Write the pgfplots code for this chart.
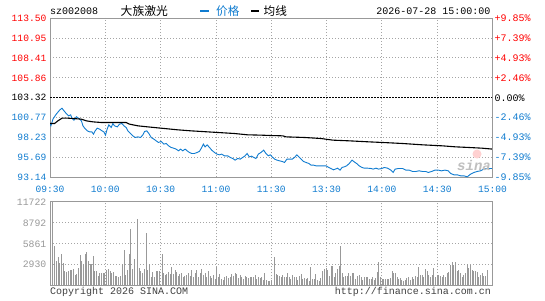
\documentclass[border=0pt]{standalone}
\usepackage{pgfplots}
\pgfplotsset{compat=1.18}
\usepackage{fontspec}
\setmainfont{Liberation Mono}
\newfontfamily\cjk{Noto Sans CJK SC}
\definecolor{pblue}{RGB}{16,124,208}
\definecolor{fgray}{RGB}{153,153,153}
\definecolor{ggray}{RGB}{165,165,165}
\definecolor{pred}{RGB}{255,0,0}
\newcommand{\tl}[2]{\textcolor{#1}{\mbox{#2}}}
\begin{document}
\begin{tikzpicture}
\useasboundingbox (0,0) rectangle (545pt,300pt);
\fill[white] (0,0) rectangle (545pt,300pt);
% ---------------- main price axis
\begin{axis}[
  at={(50pt,123pt)}, anchor=south west, scale only axis,
  width=442.5pt, height=159pt,
  xmin=0, xmax=240, ymin=93.14, ymax=113.50,
  axis line style={draw=fgray, line width=0.9pt},
  xtick={0,30,...,240},
  xticklabels={09:30,10:00,10:30,11:00,11:30,13:30,14:00,14:30,15:00},
  ytick={93.14,95.69,98.23,100.77,103.32,105.86,108.41,110.95,113.50},
  yticklabels={\tl{pblue}{93.14},\tl{pblue}{95.69},\tl{pblue}{98.23},\tl{pblue}{100.77},\tl{black}{103.32},\tl{pred}{105.86},\tl{pred}{108.41},\tl{pred}{110.95},\tl{pred}{113.50}},
  major tick length=0pt,
  xmajorgrids, ymajorgrids,
  grid style={draw=ggray, line width=0.8pt, dash pattern=on 1pt off 2pt},
  tick label style={font=\fontsize{9.6}{10}\selectfont},
  xticklabel style={anchor=center, inner sep=0pt, yshift=-11.5pt, text height=7pt, text depth=0pt, text=pblue},
  yticklabel style={anchor=east, inner sep=0pt, xshift=-3.5pt, text height=7pt, text depth=0pt},
  scaled ticks=false,
]
\draw[black, line width=0.8pt, dash pattern=on 2pt off 1pt] (axis cs:0,103.32) -- (axis cs:240,103.32);
\addplot[pblue, line width=0.9pt, no marks] coordinates {
(0,99.95) (0.5,99.70) (1.6,100.55) (3.4,101.19) (5.2,101.70) (6.5,101.95) (7.6,101.61) (8.8,101.27)
(10.1,100.97) (11.2,101.10) (11.9,100.67) (13.0,100.42) (14.3,100.85) (15.5,100.67) (17.0,100.33)
(17.9,99.69) (18.8,99.39) (20.2,99.05) (21.5,98.92) (22.7,98.92) (23.6,98.63) (24.5,99.05) (25.6,99.39)
(26.9,99.27) (28.2,99.05) (29.2,98.92) (30.1,98.50) (31.0,99.27) (31.9,99.82) (33.2,99.48) (34.1,99.99)
(35.0,99.69) (36.5,99.56) (37.7,99.91) (39.0,99.99) (40.1,99.69) (41.3,99.48) (42.2,99.05) (43.7,98.71)
(44.9,98.41) (46.2,98.20) (47.7,98.28) (49.1,98.20) (50.4,98.54) (51.3,98.97) (52.5,99.05) (53.6,98.71)
(54.9,98.20) (56.3,97.99) (57.6,97.77) (58.8,97.56) (60.3,97.69) (61.7,97.35) (63.0,97.43) (64.3,97.13)
(65.7,96.92) (67.1,96.83) (68.4,96.71) (69.7,96.49) (70.8,96.71) (72.0,96.49) (73.3,96.71) (74.4,96.49)
(75.6,96.28) (76.9,96.15) (78.3,96.15) (79.8,96.28) (81.0,96.41) (82.3,96.92) (83.2,97.35) (84.1,97.00)
(85.2,97.26) (86.5,96.92) (87.7,96.58) (89.2,96.28) (90.6,96.07) (91.9,95.98) (93.1,96.07) (94.6,95.85)
(96.4,95.85) (97.8,95.64) (99.1,95.51) (100.4,95.30) (101.8,95.51) (103.2,95.43) (104.5,95.64) (105.8,95.85)
(106.9,96.15) (108.1,95.72) (109.4,95.81) (110.5,95.64) (111.7,95.51) (113.0,96.07) (114.4,96.28) (115.9,96.58)
(117.1,96.15) (118.4,95.85) (119.5,95.98) (120.5,95.72) (121.8,95.43) (123.1,95.30) (124.5,95.21) (125.9,95.13)
(127.2,95.00) (128.5,95.43) (129.9,95.43) (131.4,95.43) (132.6,95.64) (133.9,95.98) (135.0,95.72) (136.2,95.43)
(137.5,95.13) (138.9,95.00) (140.4,94.87) (141.6,94.66) (142.9,94.66) (144.3,94.57) (146.1,94.57) (147.9,94.57)
(149.7,94.57) (151.2,94.36) (152.4,94.23) (153.7,94.06) (154.8,94.15) (156.0,94.27) (157.3,94.02) (158.4,94.36)
(159.6,94.44) (160.9,94.57) (162.3,94.87) (163.8,95.30) (165.0,95.08) (166.3,94.87) (167.7,94.57) (169.2,94.36)
(170.5,94.27) (172.3,94.27) (174.1,94.23) (175.3,94.15) (176.8,94.27) (178.2,94.15) (180.0,94.23) (181.3,94.36)
(183.1,94.27) (184.9,94.02) (186.1,93.72) (187.2,94.15) (189.0,94.23) (191.2,94.23) (193.0,94.02) (194.8,94.02)
(196.6,93.85) (198.4,93.85) (200.2,93.93) (202.0,93.85) (203.8,93.85) (205.2,93.72) (207.0,93.85) (208.8,94.02)
(210.6,94.02) (212.4,93.93) (214.2,94.02) (216.0,93.93) (217.3,93.59) (219.1,93.42) (220.9,93.42) (222.7,93.29)
(224.5,93.29) (226.3,93.16) (228.1,93.51) (229.9,93.72) (231.7,93.85) (233.5,93.93) (235.3,94.15) (237.1,94.23)
(239.5,94.23) (240,94.23)
};
\addplot[black, line width=1.1pt, no marks] coordinates {
(0,99.99) (2.5,99.99) (4.3,100.33) (6.5,100.67) (10,100.67) (17,100.55) (19.7,100.33) (23.3,100.20)
(27.8,100.12) (41.3,100.12) (43.1,99.91) (47.7,99.69) (53,99.56) (60.3,99.39) (69.3,99.18) (76.5,99.05)
(82,98.97) (91,98.84) (100,98.71) (107.2,98.54) (114.4,98.50) (120,98.45) (126.3,98.41) (128,98.28)
(138,98.20) (147,98.07) (153.3,97.86) (162.3,97.77) (173,97.64) (180.4,97.56) (191.2,97.43) (202,97.26)
(212.8,97.13) (220,97.00) (227.2,96.92) (234.4,96.83) (240,96.71)
};
\end{axis}
% ---------------- right percent axis
\begin{axis}[
  at={(50pt,123pt)}, anchor=south west, scale only axis,
  width=442.5pt, height=159pt,
  xmin=0, xmax=240, ymin=-9.85, ymax=9.85,
  axis x line=none, axis y line*=right,
  axis line style={draw=fgray, line width=0.9pt},
  ytick={-9.85,-7.39,-4.93,-2.46,0,2.46,4.93,7.39,9.85},
  yticklabels={\tl{pblue}{-9.85\%},\tl{pblue}{-7.39\%},\tl{pblue}{-4.93\%},\tl{pblue}{-2.46\%},\tl{black}{0.00\%},\tl{pred}{+2.46\%},\tl{pred}{+4.93\%},\tl{pred}{+7.39\%},\tl{pred}{+9.85\%}},
  major tick length=0pt,
  tick label style={font=\fontsize{10}{10}\selectfont},
  yticklabel style={anchor=west, inner sep=0pt, xshift=1.8pt, text height=7pt, text depth=0pt},
  scaled ticks=false,
]
\end{axis}
% ---------------- volume axis
\begin{axis}[
  at={(50pt,14.7pt)}, anchor=south west, scale only axis,
  width=442.5pt, height=83.6pt,
  xmin=0, xmax=240, ymin=0, ymax=11722,
  axis line style={draw=fgray, line width=0.9pt},
  xtick={30,60,...,210}, xticklabels={},
  ytick={2930,5861,8792,11722},
  yticklabels={\tl{fgray}{2930},\tl{fgray}{5861},\tl{fgray}{8792},\tl{fgray}{11722}},
  major tick length=0pt,
  xmajorgrids, ymajorgrids,
  grid style={draw=ggray, line width=0.8pt, dash pattern=on 1pt off 2pt},
  tick label style={font=\fontsize{9.8}{10}\selectfont},
  yticklabel style={anchor=east, inner sep=0pt, xshift=-3.5pt, text height=7pt, text depth=0pt},
  scaled ticks=false,
]
\addplot[ycomb, no marks, draw=fgray, line width=1pt] coordinates {
(0,2850) (1.3,11722) (2.4,5510) (3.3,3409) (4.5,4016) (5.4,3176) (6.2,4390) (7.1,3082) (8.1,2008) (9.0,1915)
(10.0,2008) (10.9,2148) (11.8,2148) (12.7,2288) (13.6,1448) (14.5,1588) (15.4,2475) (16.3,4250) (17.2,3409)
(18.1,2989) (19.0,4390) (19.9,4670) (20.8,3409) (21.7,2989) (22.6,2989) (23.5,4110) (24.4,2008) (25.3,2008)
(26.2,1308) (27.1,1775) (28.0,1775) (28.9,1775) (29.8,1681) (30.7,2148) (31.7,2242) (32.6,2055) (33.5,1775)
(34.4,1915) (35.3,1308) (36.2,1308) (37.1,1121) (38.0,1308) (39.4,2989) (40.3,4950) (41.2,1448) (42.1,2148)
(43.0,4390) (43.9,7846) (44.9,2335) (45.9,3643) (47.4,9247) (48.3,2382) (49.2,2008) (50.3,1681) (51.2,2242)
(52.1,7379) (53.0,2148) (53.9,2989) (54.8,1121) (55.7,1915) (56.6,1121) (57.5,2008) (58.4,2008) (59.3,2055)
(60.8,4390) (61.5,1775) (62.4,1448) (63.3,1588) (64.2,1915) (65.1,1588) (66.0,2522) (66.9,1588) (67.8,2148)
(68.7,1915) (69.6,1308) (70.5,1588) (71.4,1681) (72.3,1121) (73.2,1308) (74.1,1448) (75.0,1681) (76.0,1308)
(76.9,2148) (77.8,1214) (78.7,1681) (79.6,2148) (80.5,1121) (81.4,1775) (82.3,2242) (83.2,1448) (84.1,1775)
(85.0,1121) (85.9,2055) (86.8,1308) (87.7,981) (88.6,1448) (89.5,841) (90.4,2522) (91.3,1121) (92.2,1588)
(93.1,841) (94.0,747) (94.9,1121) (95.8,1308) (96.7,981) (97.7,1121) (98.6,1588) (99.5,1308) (100.4,1775)
(101.3,1588) (102.2,981) (103.1,1448) (104.0,1121) (104.9,841) (105.8,1308) (106.7,1121) (107.6,981)
(108.5,1121) (109.4,1214) (110.3,1121) (111.2,1448) (112.1,841) (113.0,1121) (113.9,981) (114.8,1121)
(115.7,747) (116.6,1775) (117.5,747) (118.4,654) (119.3,654) (120.3,747) (121.6,4016) (122.6,1588)
(123.4,1448) (124.5,1308) (125.4,1121) (126.3,1448) (127.0,1121) (128.1,1121) (128.9,1681) (129.9,1121)
(130.7,841) (131.6,1448) (132.5,1121) (133.6,1121) (134.3,747) (135.4,1308) (136.3,1588) (137.2,841)
(138.1,981) (139.0,841) (139.7,981) (140.8,654) (141.5,2522) (142.4,841) (143.3,841) (144.2,1588) (145.1,747)
(146.0,654) (146.9,981) (148.0,2055) (148.8,2242) (149.7,2382) (150.6,2148) (151.7,1308) (152.6,2709)
(153.3,2709) (154.2,1121) (155.1,1775) (156.0,2242) (156.9,2709) (157.6,5511) (158.4,1681) (159.3,1121)
(160.2,1308) (161.1,1308) (162.0,1681) (162.9,1308) (163.8,1681) (164.7,1681) (165.6,841) (166.9,1308)
(167.8,1448) (168.7,1121) (169.6,747) (170.5,1214) (171.4,1121) (172.3,1121) (173.2,841) (174.1,841)
(175.0,1121) (175.9,747) (176.8,981) (177.6,1915) (178.4,3316) (179.3,1121) (180.3,841) (181.0,841)
(181.9,841) (182.8,841) (183.7,841) (184.6,981) (185.5,2055) (186.4,1681) (187.3,1681) (188.2,1121)
(189.1,841) (190.0,981) (190.9,747) (191.8,654) (192.7,747) (193.6,981) (194.6,1121) (195.5,747) (196.4,1121)
(197.3,841) (198.2,1308) (199.1,1121) (200.0,2522) (200.9,1448) (201.8,1448) (202.7,1214) (203.6,2242)
(204.5,2055) (205.4,1448) (206.3,1121) (207.2,1448) (208.1,2382) (209.0,1121) (209.9,1448) (210.8,1448)
(211.7,1308) (212.7,1121) (213.6,1448) (214.5,1121) (215.4,1681) (216.3,1915) (217.2,2849) (218.1,3316)
(219.0,2849) (219.9,3316) (220.8,2055) (221.7,2148) (222.6,1681) (223.5,1121) (224.4,1448) (225.3,1681)
(226.2,2989) (227.1,2382) (228.0,2849) (228.9,2148) (229.8,2055) (230.7,2055) (231.6,1915) (232.6,1121)
(233.5,1448) (234.4,1681) (235.3,1308) (236.2,1308) (237.1,2148)
};
\end{axis}
% ---------------- header and footer texts
\node[anchor=base west, inner sep=0pt, font=\fontsize{10}{12}\selectfont] at (50pt,285pt) {sz002008};
\node[anchor=base west, inner sep=0pt, font=\cjk\fontsize{11.8}{13}\selectfont] at (120.5pt,284.8pt) {大族激光};
\fill[pblue] (200pt,287.5pt) rectangle (209.3pt,290pt);
\node[anchor=base west, inner sep=0pt, text=pblue, font=\cjk\fontsize{11.6}{13}\selectfont] at (216pt,284.8pt) {价格};
\fill[black] (250.7pt,287.5pt) rectangle (259.3pt,290pt);
\node[anchor=base west, inner sep=0pt, font=\cjk\fontsize{11.6}{13}\selectfont] at (263.5pt,284.8pt) {均线};
\node[anchor=base east, inner sep=0pt, font=\fontsize{10}{12}\selectfont] at (490.5pt,285pt) {2026-07-28 15:00:00};
\node[anchor=base west, inner sep=0pt, text=black!75, font=\fontsize{10}{12}\selectfont] at (50pt,5.5pt) {Copyright 2026 SINA.COM};
\node[anchor=base east, inner sep=0pt, text=black!75, font=\fontsize{10}{12}\selectfont] at (491pt,5.5pt) {http://finance.sina.com.cn};
% sina watermark
\fill[red!18] (477pt,146pt) circle (4.5pt);
\node[inner sep=0pt, text=black!25, font=\bfseries\itshape\fontsize{14}{14}\selectfont] at (474pt,135pt) {sina};
\end{tikzpicture}
\end{document}
